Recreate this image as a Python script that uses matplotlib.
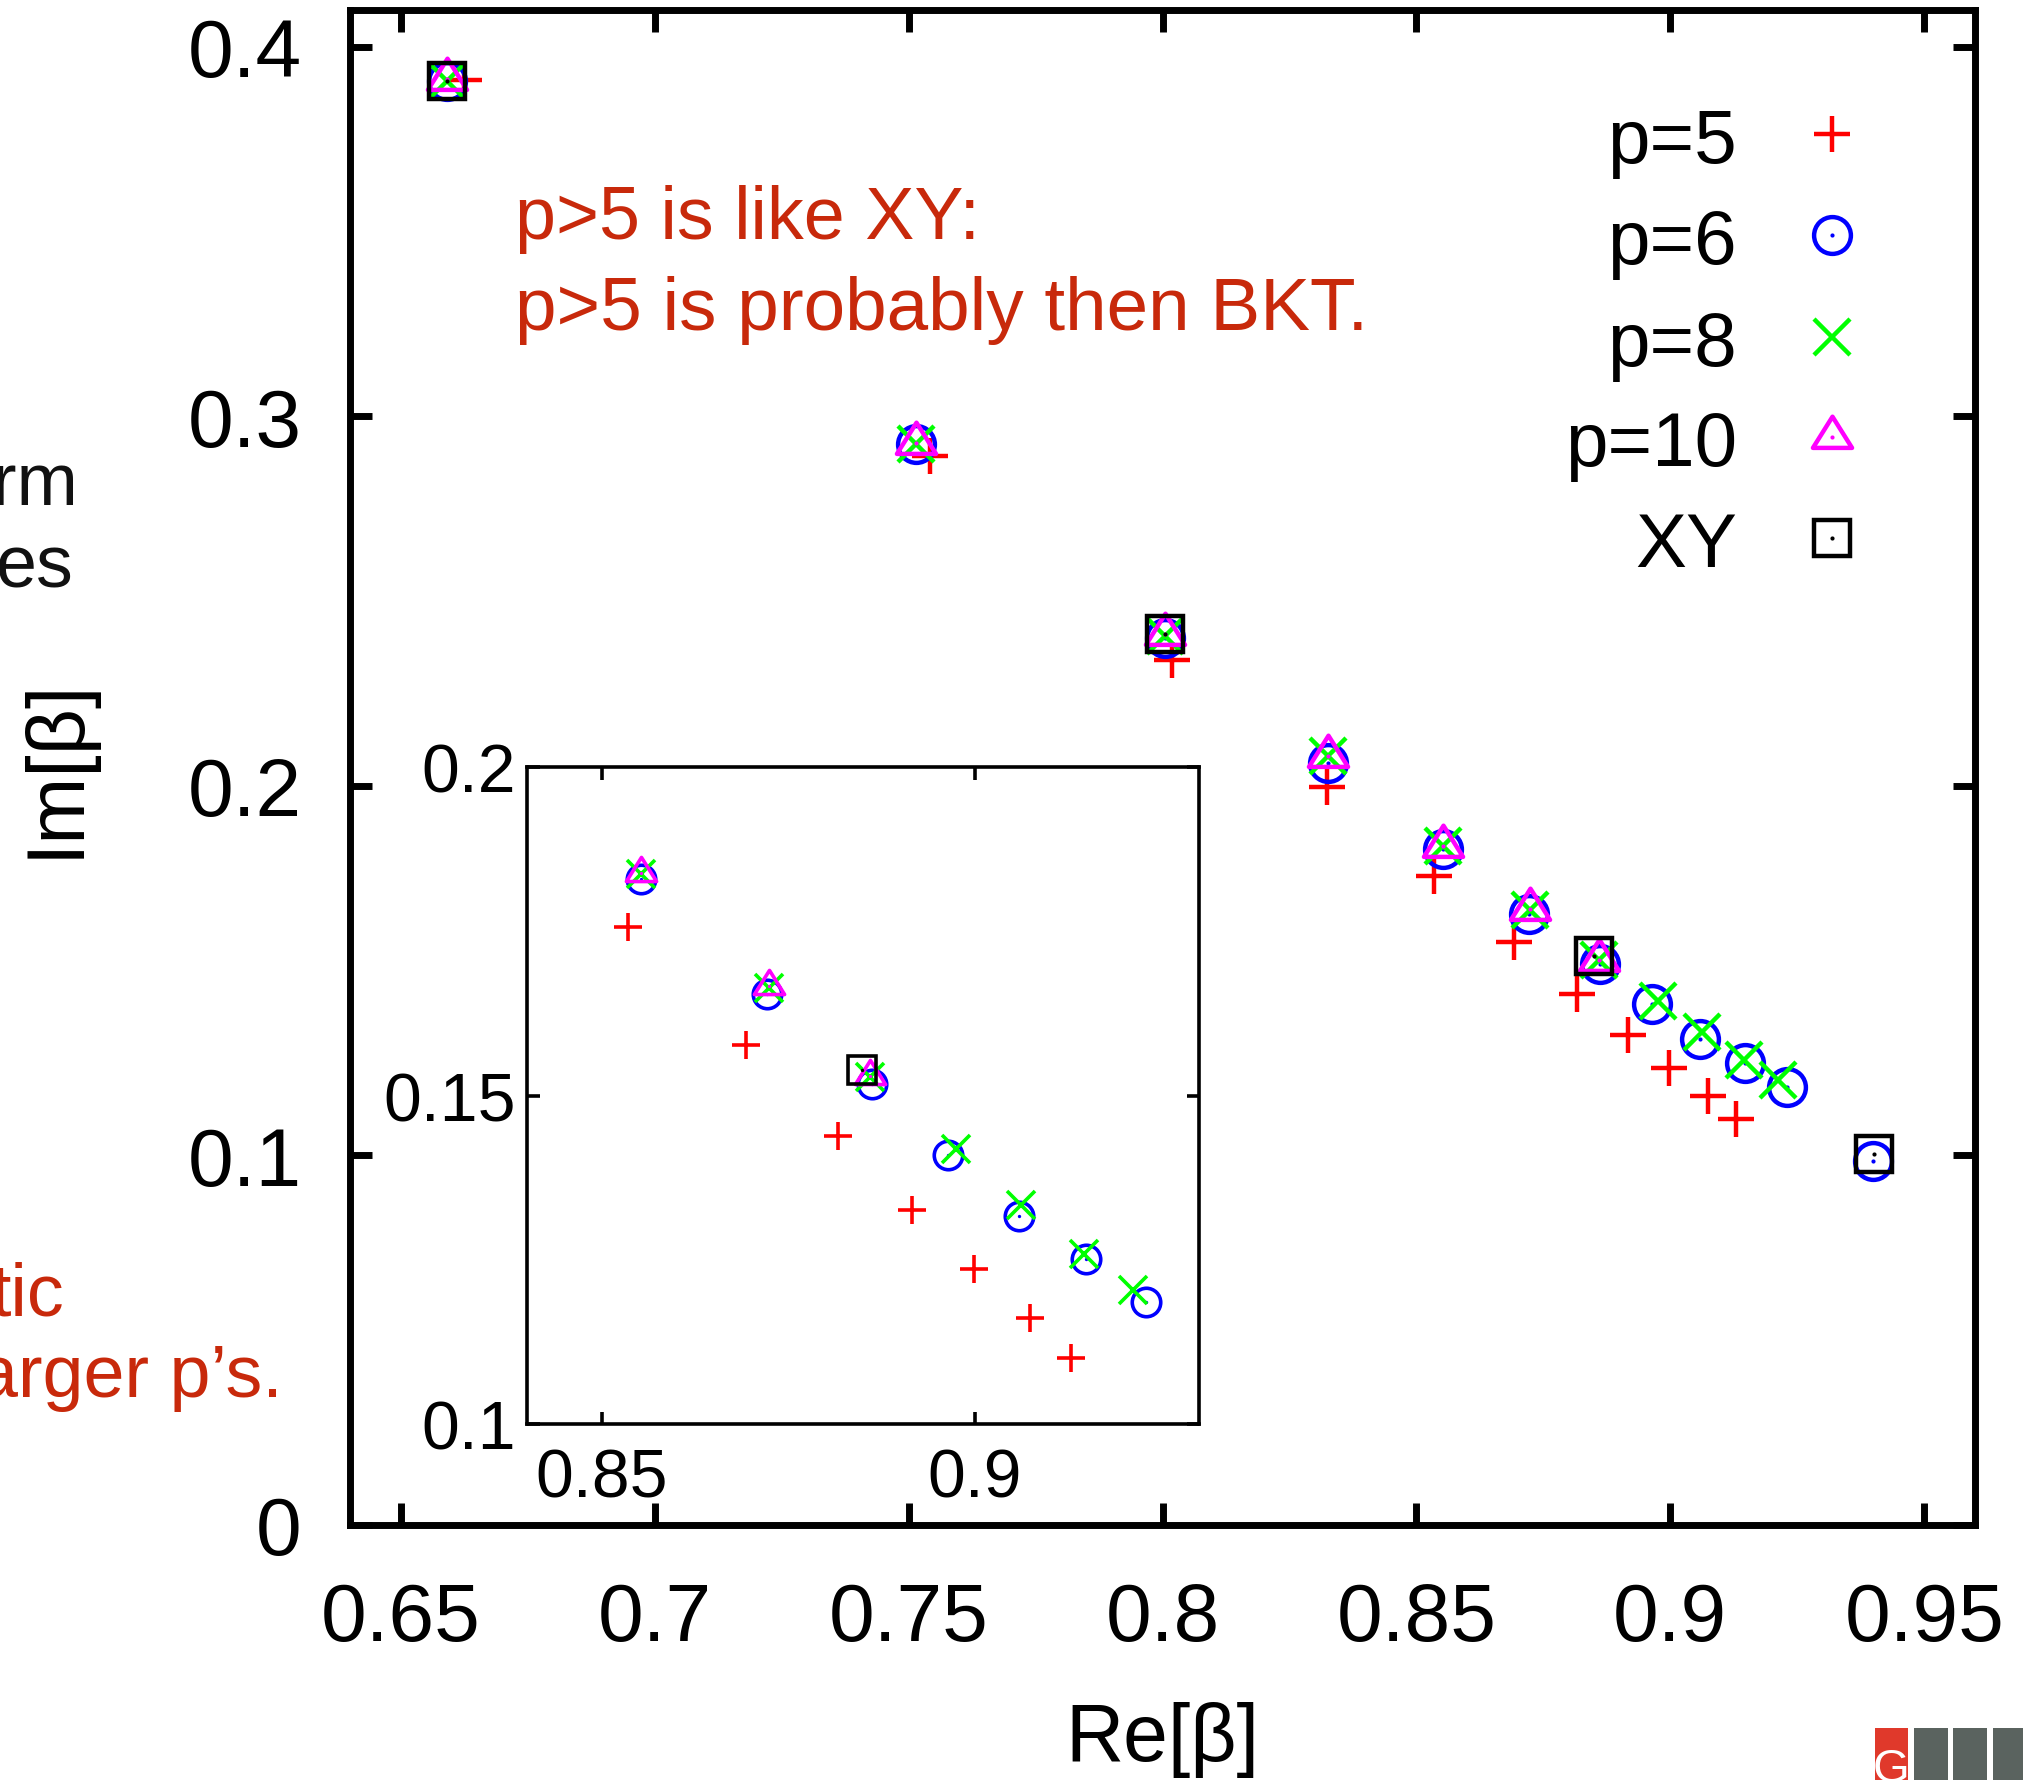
import numpy as np
import matplotlib
matplotlib.use("Agg")
import matplotlib.pyplot as plt
from matplotlib.path import Path
from matplotlib.patches import Rectangle

W, H, DPI = 2023, 1781, 100

# values (Re[beta], Im[beta])
p5_re = [0.6625, 0.7543, 0.8019, 0.8324, 0.8535, 0.8693, 0.8817, 0.8916, 0.8998, 0.9074, 0.9129]
p5_im = [0.3911, 0.2893, 0.2342, 0.1997, 0.1757, 0.1577, 0.1438, 0.1325, 0.1236, 0.1161, 0.1100]

p6_re = [0.6592, 0.7515, 0.8004, 0.8326, 0.8553, 0.8722, 0.8862, 0.8964, 0.9059, 0.9148, 0.9229, 0.9400]
p6_im = [0.3909, 0.2926, 0.2400, 0.2063, 0.1829, 0.1654, 0.1518, 0.1410, 0.1316, 0.1251, 0.1185, 0.0986]

p8_re = [0.6592, 0.7515, 0.8004, 0.8326, 0.8553, 0.8724, 0.8859, 0.8975, 0.9062, 0.9146, 0.9212]
p8_im = [0.3909, 0.2926, 0.2405, 0.2080, 0.1837, 0.1664, 0.1528, 0.1418, 0.1333, 0.1258, 0.1204]

p10_re = [0.6592, 0.7515, 0.8004, 0.8326, 0.8553, 0.8724, 0.8860]
p10_im = [0.3912, 0.2928, 0.2410, 0.2080, 0.1838, 0.1667, 0.1530]

xy_re = [0.6592, 0.8004, 0.8849, 0.9402]
xy_im = [0.3909, 0.2412, 0.1539, 0.1004]

xticks = [0.65, 0.7, 0.75, 0.8, 0.85, 0.9, 0.95]
xticklabels = ["0.65", "0.7", "0.75", "0.8", "0.85", "0.9", "0.95"]
yticks = [0, 0.1, 0.2, 0.3, 0.4]
yticklabels = ["0", "0.1", "0.2", "0.3", "0.4"]
in_xticks = [0.85, 0.9]
in_xticklabels = ["0.85", "0.9"]
in_yticks = [0.1, 0.15, 0.2]
in_yticklabels = ["0.1", "0.15", "0.2"]

RED2 = "#c8290b"

# gnuplot-like triangle, centred on its centroid (height ~0.8 of width)
TRI = Path([(0, 1.0), (-0.94, -0.5), (0.94, -0.5), (0, 1.0)],
           [Path.MOVETO, Path.LINETO, Path.LINETO, Path.CLOSEPOLY])
TRI_SCALE = 1.13

SERIES = [
    ("p=5", p5_re, p5_im, "#ff0000", "+", False),
    ("p=6", p6_re, p6_im, "#0000ff", "o", True),
    ("p=8", p8_re, p8_im, "#00ff00", "x", False),
    ("p=10", p10_re, p10_im, "#ff00ff", TRI, True),
    ("XY", xy_re, xy_im, "#000000", "s", True),
]

plt.rcParams["font.family"] = ["Liberation Sans", "DejaVu Sans"]

fig = plt.figure(figsize=(W / DPI, H / DPI), dpi=DPI)
fig.patch.set_facecolor("white")


def box(x0, y0, x1, y1):
    # pixel box (top-left origin) -> figure fraction rect
    return [x0 / W, 1 - y1 / H, (x1 - x0) / W, (y1 - y0) / H]


def draw_points(a, size, lw, dot):
    for label, xs, ys, col, mk, dotted in SERIES:
        ms = size * (TRI_SCALE if mk is TRI else 1.0)
        a.plot(xs, ys, ls="none", marker=mk, ms=ms, mew=lw, mec=col, mfc="none")
        if dotted:
            a.plot(xs, ys, ls="none", marker="o", ms=dot, mew=0, mfc=col)


# main axes
ax = fig.add_axes(box(350, 11, 1975, 1526))
draw_points(ax, 26.5, 3.2, 3.0)
ax.set_xlim(0.64, 0.96)
ax.set_ylim(0, 0.41)
ax.set_xticks(xticks)
ax.set_xticklabels(xticklabels)
ax.set_yticks(yticks)
ax.set_yticklabels(yticklabels)
ax.tick_params(direction="in", length=15.5, width=5, top=True, right=True,
               labelsize=59)
ax.tick_params(axis="x", pad=40)
ax.tick_params(axis="y", pad=35)
for s in ax.spines.values():
    s.set_linewidth(5)

# inset
axin = fig.add_axes(box(527, 768, 1199, 1425))
draw_points(axin, 20.5, 2.6, 2.4)
axin.set_xlim(0.84, 0.93)
axin.set_ylim(0.1, 0.2)
axin.set_xticks(in_xticks)
axin.set_xticklabels(in_xticklabels)
axin.set_yticks(in_yticks)
axin.set_yticklabels(in_yticklabels)
axin.tick_params(direction="in", length=9, width=2.6, top=True, right=True,
                 labelsize=49)
axin.tick_params(axis="x", pad=16)
axin.tick_params(axis="y", pad=8)
for s in axin.spines.values():
    s.set_linewidth(2.6)

# axis labels
fig.text(1162 / W, 1 - 1761 / H, "Re[β]", ha="center", va="baseline", fontsize=58)
fig.text(57 / W, 1 - 768 / H, "Im[β]", ha="center", va="center", rotation=90,
         fontsize=58)

# legend, labels right-aligned left of the symbols
rows = [135, 236, 338, 438, 539]
for (label, xs, ys, col, mk, dotted), ry in zip(SERIES, rows):
    fig.text(1737 / W, 1 - (ry + 28) / H, label, ha="right", va="baseline",
             fontsize=55)
    ms = 26.5 * (TRI_SCALE if mk is TRI else 1.0)
    fig.lines.append(plt.Line2D([1832 / W], [1 - ry / H], transform=fig.transFigure,
                                ls="none", marker=mk, ms=ms, mew=3.2, mec=col,
                                mfc="none"))
    if dotted:
        fig.lines.append(plt.Line2D([1832 / W], [1 - ry / H], transform=fig.transFigure,
                                    ls="none", marker="o", ms=3.0, mew=0, mfc=col))

# annotation inside the plot
fig.text(515 / W, 1 - 239 / H, "p>5 is like XY:", ha="left", va="baseline",
         fontsize=53, color=RED2)
fig.text(515 / W, 1 - 330 / H, "p>5 is probably then BKT.", ha="left",
         va="baseline", fontsize=53.8, color=RED2)

# clipped slide text at the left edge
fig.text(78 / W, 1 - 505 / H, "rm", ha="right", va="baseline", fontsize=53,
         color="#111111")
fig.text(74 / W, 1 - 587 / H, "es", ha="right", va="baseline", fontsize=53,
         color="#111111")
fig.text(65 / W, 1 - 1316 / H, "tic", ha="right", va="baseline", fontsize=53,
         color=RED2)
fig.text(283 / W, 1 - 1397 / H, "arger p\u2019s.", ha="right", va="baseline",
         fontsize=53, color=RED2)

# logo strip bottom right
fig.add_artist(Rectangle((1875 / W, 0), 33 / W, 52 / H, transform=fig.transFigure,
                         facecolor="#e0392b", edgecolor="none"))
for x0 in (1914, 1953, 1993):
    fig.add_artist(Rectangle((x0 / W, 0), 34 / W, 52 / H, transform=fig.transFigure,
                             facecolor="#5a635f", edgecolor="none"))
fig.text(1891 / W, 1 - 1782 / H, "G", ha="center", va="baseline", fontsize=34,
         color="white")

fig.savefig("out.png", dpi=DPI, facecolor="white")
